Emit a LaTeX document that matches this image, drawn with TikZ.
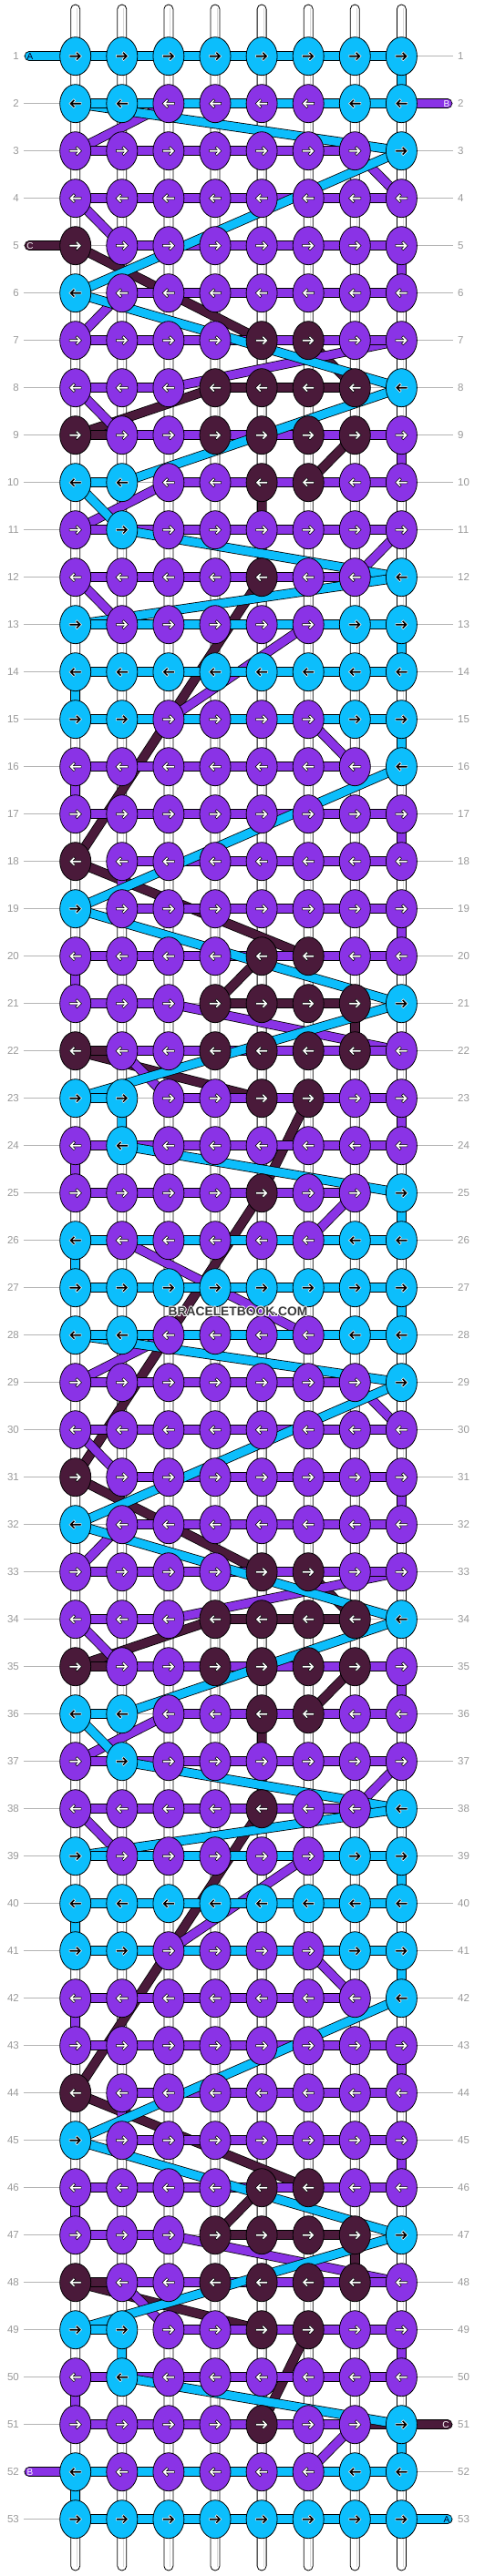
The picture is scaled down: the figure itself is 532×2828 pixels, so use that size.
\documentclass[tikz,border=0pt]{standalone}
\usepackage{fontspec}
\setmainfont{Liberation Sans}
\usetikzlibrary{shapes.geometric}
\definecolor{colA}{HTML}{0CBEFC}
\definecolor{colB}{HTML}{8A33E6}
\definecolor{colC}{HTML}{4A1A3A}
\definecolor{rowgray}{HTML}{B4B4B4}
\definecolor{numgray}{HTML}{999999}
\definecolor{wmgray}{HTML}{3A3A3A}
\tikzset{
  knot/.style={ellipse, minimum width=34pt, minimum height=42pt, inner sep=0pt, draw=black, line width=0.8pt},
  strbase/.style={draw=black, line width=0.8pt, double distance=9pt},
  strA/.style={strbase, double=colA},
  strB/.style={strbase, double=colB},
  strC/.style={strbase, double=colC},
  arr/.pic={\path[pic actions] (-6.5,1.2) -- (2.2,1.2) -- (0.1,3.3) -- (1.8,5.0) -- (6.8,0) -- (1.8,-5.0) -- (0.1,-3.3) -- (2.2,-1.2) -- (-6.5,-1.2) -- cycle;},
  rownum/.style={font=\fontsize{11.5}{12}\selectfont, text=numgray, inner sep=0pt},
  lbl/.style={font=\fontsize{10}{10}\selectfont, inner sep=0pt},
  wm/.style={font=\bfseries\fontsize{13.8}{14}\selectfont, inner sep=0pt},
}
\newcommand\sg[5]{\pgfmathtruncatemacro\rA{#2+\offs}\pgfmathtruncatemacro\rB{#4+\offs}\draw[str#1] (p-\rA-#3) -- (p-\rB-#5);}
\newcommand\bandsC{\sg C{5}{1}{7}{5}\sg C{7}{6}{8}{7}\sg C{8}{4}{9}{1}\sg C{9}{7}{10}{6}\sg C{10}{5}{12}{5}\sg C{12}{5}{18}{1}\sg C{18}{1}{20}{6}\sg C{20}{5}{21}{4}\sg C{21}{7}{22}{7}\sg C{22}{1}{23}{5}\sg C{23}{6}{25}{5}}
\newcommand\barsC{\sg C{7}{5}{7}{6}\sg C{8}{4}{8}{7}\sg C{9}{1}{9}{7}\sg C{10}{5}{10}{6}\sg C{20}{5}{20}{6}\sg C{21}{4}{21}{7}\sg C{22}{1}{22}{7}\sg C{23}{5}{23}{6}}
\newcommand\bandsB{\sg B{2}{3}{3}{1}\sg B{3}{7}{4}{8}\sg B{4}{1}{5}{2}\sg B{5}{8}{6}{8}\sg B{6}{2}{7}{1}\sg B{7}{8}{8}{3}\sg B{8}{1}{9}{2}\sg B{9}{8}{10}{8}\sg B{10}{3}{11}{1}\sg B{11}{8}{12}{7}\sg B{12}{1}{13}{2}\sg B{13}{6}{15}{3}\sg B{15}{6}{16}{7}\sg B{16}{1}{17}{1}\sg B{17}{8}{18}{8}\sg B{18}{2}{19}{2}\sg B{19}{8}{20}{8}\sg B{20}{1}{21}{1}\sg B{21}{3}{22}{8}\sg B{22}{2}{23}{3}\sg B{23}{8}{24}{8}\sg B{24}{1}{25}{1}\sg B{25}{7}{26}{6}}
\newcommand\barsB{\sg B{2}{3}{2}{6}\sg B{3}{1}{3}{7}\sg B{4}{1}{4}{8}\sg B{5}{2}{5}{8}\sg B{6}{2}{6}{8}\sg B{7}{1}{7}{8}\sg B{8}{1}{8}{3}\sg B{9}{2}{9}{8}\sg B{10}{3}{10}{8}\sg B{11}{1}{11}{8}\sg B{12}{1}{12}{7}\sg B{13}{2}{13}{6}\sg B{15}{3}{15}{6}\sg B{16}{1}{16}{7}\sg B{17}{1}{17}{8}\sg B{18}{2}{18}{8}\sg B{19}{2}{19}{8}\sg B{20}{1}{20}{8}\sg B{21}{1}{21}{3}\sg B{22}{2}{22}{8}\sg B{23}{3}{23}{8}\sg B{24}{1}{24}{8}\sg B{25}{1}{25}{7}\sg B{26}{2}{26}{6}}
\newcommand\bandsA{\sg A{1}{8}{2}{8}\sg A{2}{1}{3}{8}\sg A{3}{8}{6}{1}\sg A{6}{1}{8}{8}\sg A{8}{8}{10}{2}\sg A{10}{1}{11}{2}\sg A{11}{2}{12}{8}\sg A{12}{8}{13}{1}\sg A{13}{8}{14}{8}\sg A{14}{1}{15}{1}\sg A{15}{8}{16}{8}\sg A{16}{8}{19}{1}\sg A{19}{1}{21}{8}\sg A{21}{8}{23}{1}\sg A{23}{2}{24}{2}\sg A{24}{2}{25}{8}\sg A{25}{8}{26}{8}\sg A{26}{1}{27}{1}}
\newcommand\barsA{\sg A{1}{1}{1}{8}\sg A{2}{1}{2}{8}\sg A{10}{1}{10}{2}\sg A{13}{1}{13}{8}\sg A{14}{1}{14}{8}\sg A{15}{1}{15}{8}\sg A{23}{1}{23}{2}\sg A{26}{1}{26}{8}}
\newcommand\knotat[3]{%
  \if A#3\def\kfill{colA}\def\afill{black}\def\adraw{white}\fi
  \if B#3\def\kfill{colB}\def\afill{white}\def\adraw{black}\fi
  \if C#3\def\kfill{colC}\def\afill{white}\def\adraw{black}\fi
  \node[knot, fill=\kfill] (k-#1-#2) at (p-#1-#2) {};
  \ifodd#1 \pic[fill=\afill, draw=\adraw, line width=0.5pt] at (p-#1-#2) {arr};
  \else \pic[fill=\afill, draw=\adraw, line width=0.5pt, xscale=-1] at (p-#1-#2) {arr};
  \fi}
\begin{document}
\begin{tikzpicture}[x=1pt,y=1pt]
\fill[white] (0,0) rectangle (532,-2828);
\useasboundingbox (0,0) rectangle (532,-2828);
% knot positions
\foreach \rr in {1,...,53}{\foreach \cc in {1,...,8}{\coordinate (p-\rr-\cc) at ({82.7+51.1*(\cc-1)},{-61.7-52*(\rr-1)});}
  \coordinate (lbL-\rr) at (32,{-61.7-52*(\rr-1)});
  \coordinate (lbR-\rr) at (491,{-61.7-52*(\rr-1)});}
% base strings
\foreach \cc in {1,...,8}{
  \draw[fill=white, line width=0.8pt, rounded corners=5pt] ({82.7+51.1*(\cc-1)-5},-5) rectangle ({82.7+51.1*(\cc-1)+5},-2822);
  \draw[gray!30, line width=1pt] ({82.7+51.1*(\cc-1)+2},-9) -- ({82.7+51.1*(\cc-1)+2},-2818);}
% row lines and numbers
\foreach \rr in {1,...,53}{
  \draw[rowgray, line width=0.8pt] (26,{-61.7-52*(\rr-1)}) -- (497,{-61.7-52*(\rr-1)});
  \node[rownum, anchor=east] (nl-\rr) at (21,{-61.7-52*(\rr-1)}) {\rr};
  \node[rownum, anchor=west] (nr-\rr) at (502,{-61.7-52*(\rr-1)}) {\rr};}
% string C
\def\offs{0}\bandsC\def\offs{26}\bandsC
\draw[strC] (p-25-5) -- (p-31-1);
\def\offs{0}\barsC\def\offs{26}\barsC
\draw[strC, line cap=round] (lbL-5) -- (p-5-1);
\draw[strC, line cap=round] (p-51-5) -- (lbR-51);
% string B
\def\offs{0}\bandsB\def\offs{26}\bandsB
\draw[strB] (p-26-2) -- (p-28-6);
\def\offs{0}\barsB\def\offs{26}\barsB
\draw[strB, line cap=round] (lbR-2) -- (p-2-6);
\draw[strB, line cap=round] (p-52-2) -- (lbL-52);
% string A
\def\offs{0}\bandsA\def\offs{26}\bandsA
\def\offs{0}\barsA\def\offs{26}\barsA
\draw[strA] (p-53-1) -- (p-53-8);
\draw[strA, line cap=round] (lbL-1) -- (p-1-1);
\draw[strA, line cap=round] (p-53-8) -- (lbR-53);
% knots
\foreach \rr/\ka/\kb/\kc/\kd/\ke/\kf/\kg/\kh in {
1/A/A/A/A/A/A/A/A, 2/A/A/B/B/B/B/A/A, 3/B/B/B/B/B/B/B/A, 4/B/B/B/B/B/B/B/B, 5/C/B/B/B/B/B/B/B,
6/A/B/B/B/B/B/B/B, 7/B/B/B/B/C/C/B/B, 8/B/B/B/C/C/C/C/A, 9/C/B/B/C/C/C/C/B, 10/A/A/B/B/C/C/B/B,
11/B/A/B/B/B/B/B/B, 12/B/B/B/B/C/B/B/A, 13/A/B/B/B/B/B/A/A,
14/A/A/A/A/A/A/A/A, 15/A/A/B/B/B/B/A/A, 16/B/B/B/B/B/B/B/A, 17/B/B/B/B/B/B/B/B, 18/C/B/B/B/B/B/B/B,
19/A/B/B/B/B/B/B/B, 20/B/B/B/B/C/C/B/B, 21/B/B/B/C/C/C/C/A, 22/C/B/B/C/C/C/C/B, 23/A/A/B/B/C/C/B/B,
24/B/A/B/B/B/B/B/B, 25/B/B/B/B/C/B/B/A, 26/A/B/B/B/B/B/A/A,
27/A/A/A/A/A/A/A/A, 28/A/A/B/B/B/B/A/A, 29/B/B/B/B/B/B/B/A, 30/B/B/B/B/B/B/B/B, 31/C/B/B/B/B/B/B/B,
32/A/B/B/B/B/B/B/B, 33/B/B/B/B/C/C/B/B, 34/B/B/B/C/C/C/C/A, 35/C/B/B/C/C/C/C/B, 36/A/A/B/B/C/C/B/B,
37/B/A/B/B/B/B/B/B, 38/B/B/B/B/C/B/B/A, 39/A/B/B/B/B/B/A/A,
40/A/A/A/A/A/A/A/A, 41/A/A/B/B/B/B/A/A, 42/B/B/B/B/B/B/B/A, 43/B/B/B/B/B/B/B/B, 44/C/B/B/B/B/B/B/B,
45/A/B/B/B/B/B/B/B, 46/B/B/B/B/C/C/B/B, 47/B/B/B/C/C/C/C/A, 48/C/B/B/C/C/C/C/B, 49/A/A/B/B/C/C/B/B,
50/B/A/B/B/B/B/B/B, 51/B/B/B/B/C/B/B/A, 52/A/B/B/B/B/B/A/A, 53/A/A/A/A/A/A/A/A}{
  \knotat{\rr}{1}{\ka}\knotat{\rr}{2}{\kb}\knotat{\rr}{3}{\kc}\knotat{\rr}{4}{\kd}
  \knotat{\rr}{5}{\ke}\knotat{\rr}{6}{\kf}\knotat{\rr}{7}{\kg}\knotat{\rr}{8}{\kh}}
% string end labels
\node[lbl, text=black!85!blue] (la-1) at (33,{-61.7}) {A};
\node[lbl, text=white] (la-2) at (490,{-61.7-52}) {B};
\node[lbl, text=white] (la-5) at (33,{-61.7-52*4}) {C};
\node[lbl, text=white] (la-51) at (489,{-61.7-52*50}) {C};
\node[lbl, text=white] (la-52) at (33,{-61.7-52*51}) {B};
\node[lbl, text=black!85!blue] (la-53) at (490,{-61.7-52*52}) {A};
% watermark
\foreach \dx/\dy [count=\i] in {0.8/0,-0.8/0,0/0.8,0/-0.8,0.6/0.6,-0.6/0.6,0.6/-0.6,-0.6/-0.6}{
  \node[wm, text=white] (wmo-\i) at ({261+\dx},{-1440+\dy}) {BRACELETBOOK.COM};}
\node[wm, text=wmgray] (wm) at (261,-1440) {BRACELETBOOK.COM};
\end{tikzpicture}
\end{document}
